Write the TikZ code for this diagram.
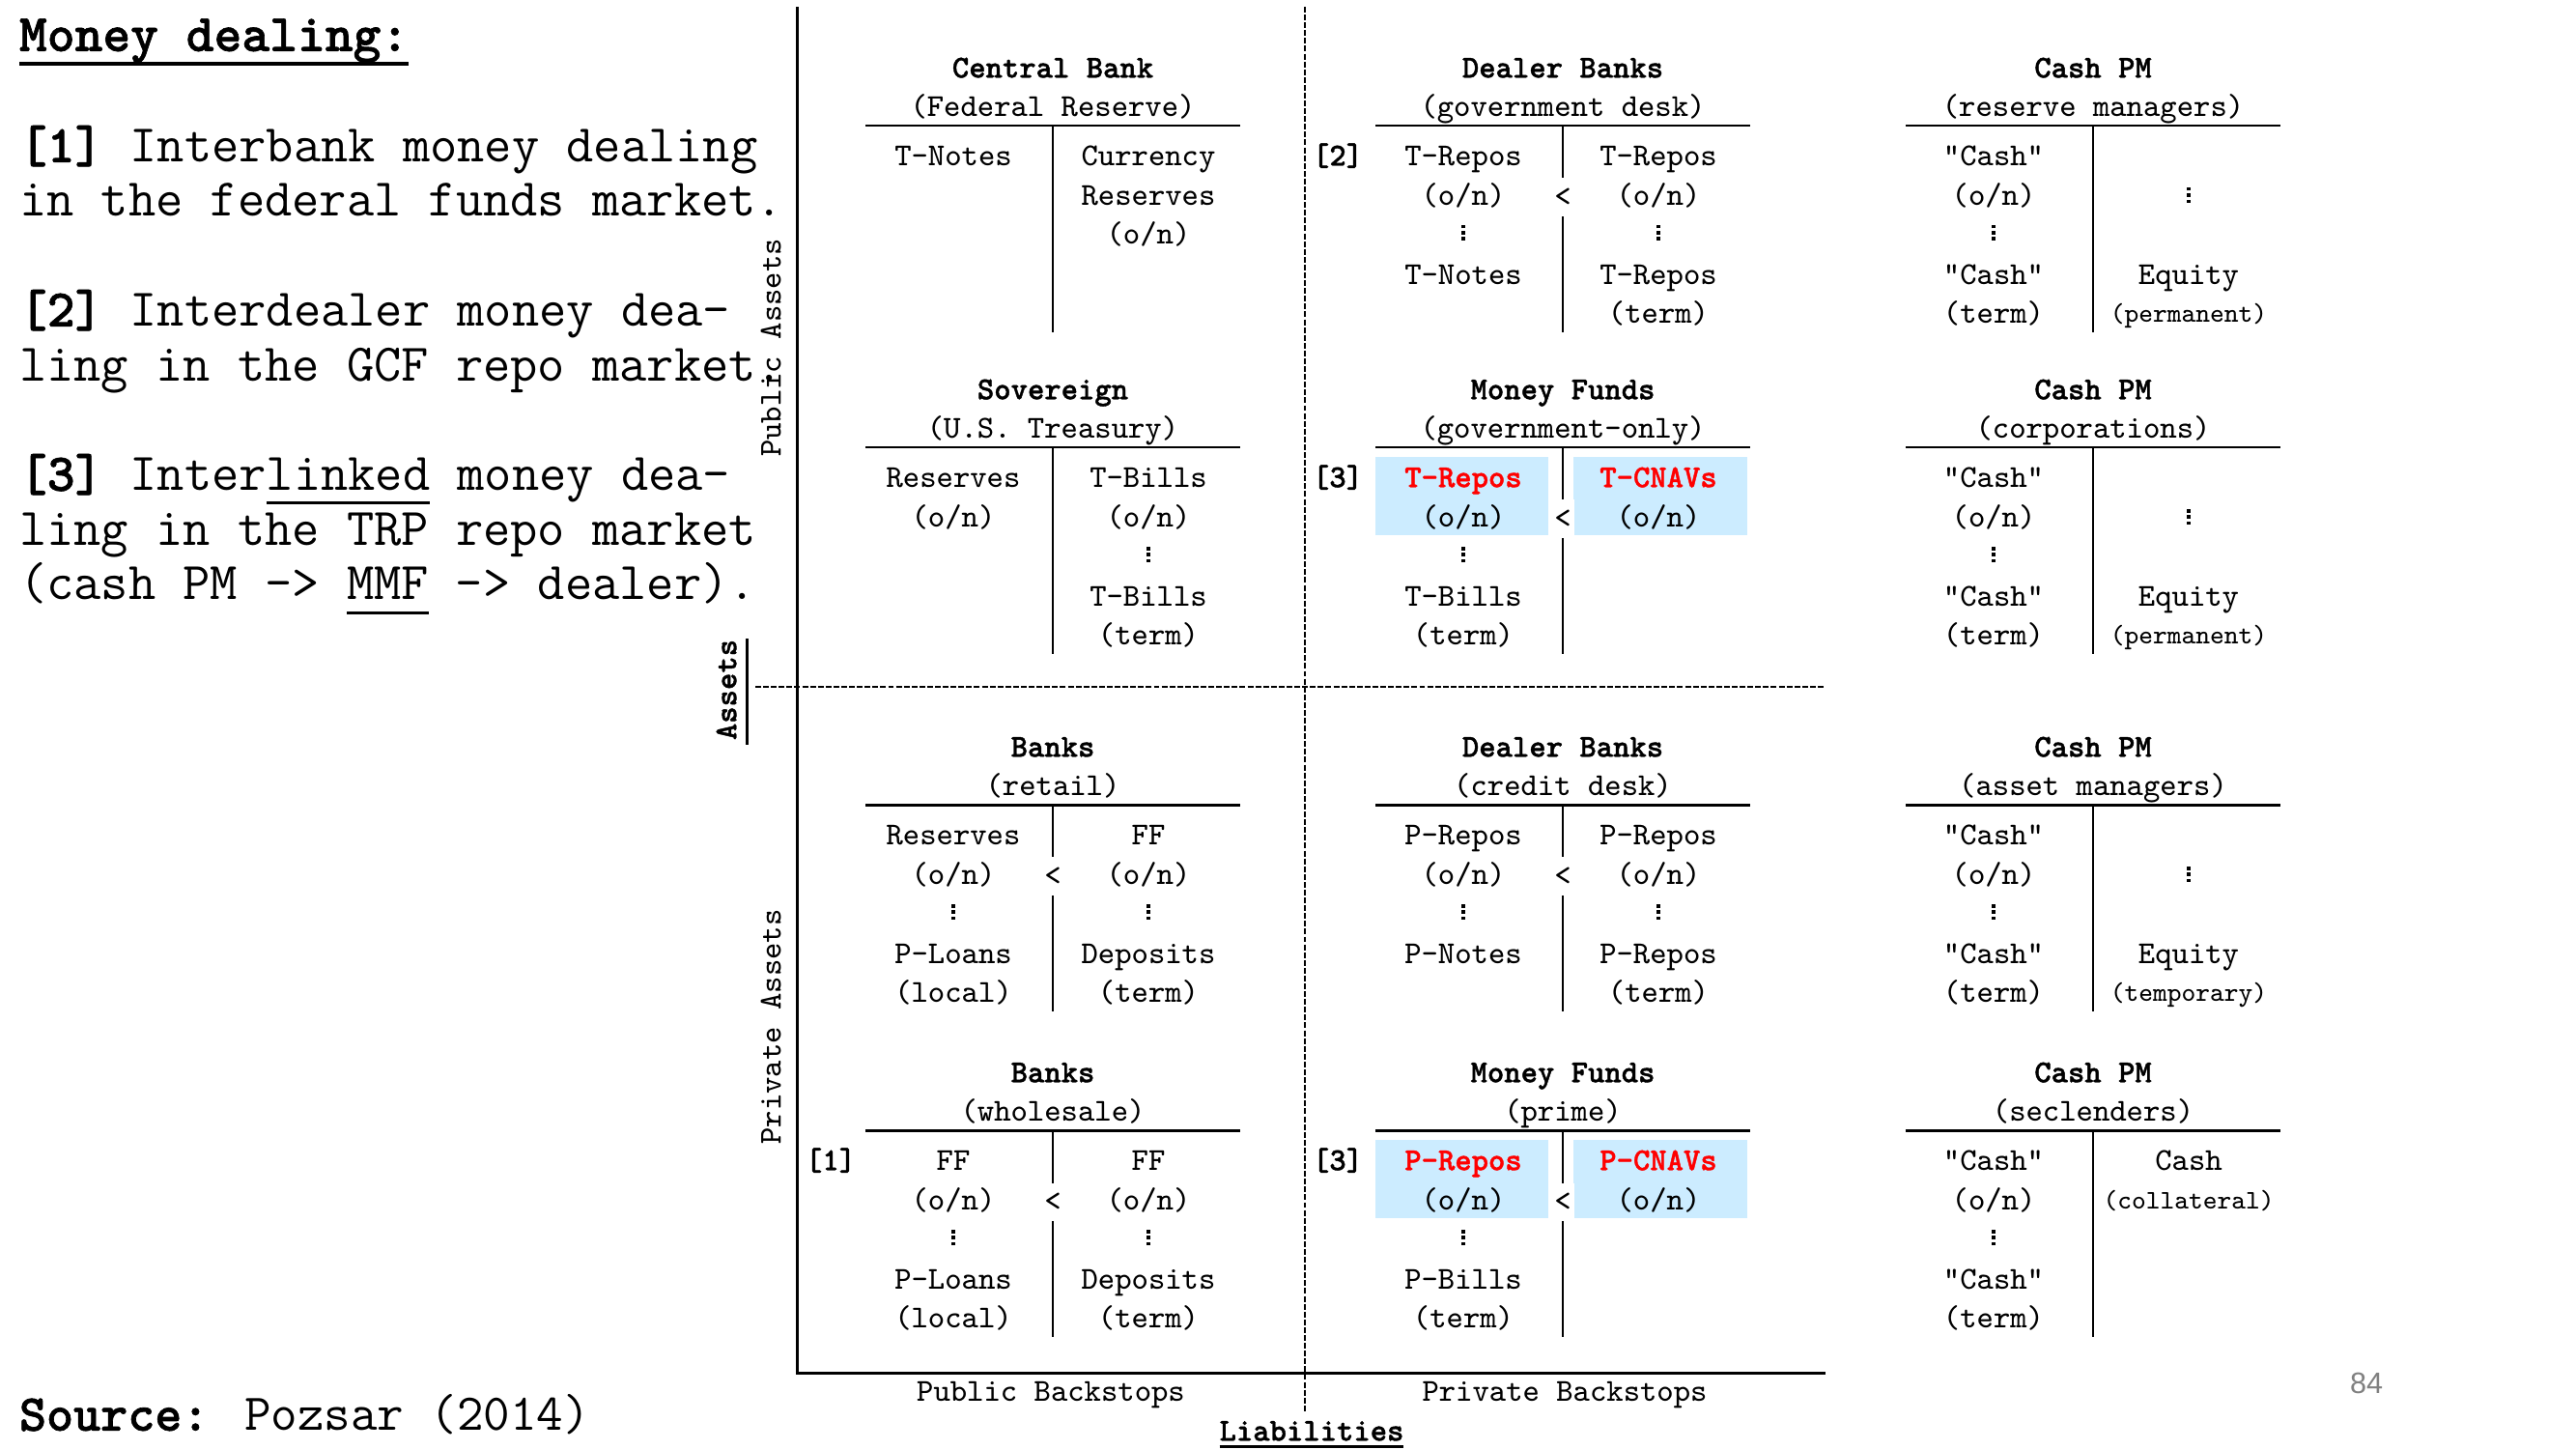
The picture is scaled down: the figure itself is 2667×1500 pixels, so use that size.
\documentclass[tikz,border=0pt]{standalone}
\usepackage{fontspec}
\newfontfamily\arialf{Liberation Sans}
\newfontfamily\tbf{lmmonolt10-bold.otf}[FakeBold=1.2]
\definecolor{hlblue}{RGB}{204,236,255}
\definecolor{pgnum}{RGB}{128,128,128}
\newcommand\tabfont{\fontsize{9.4}{11}\selectfont\ttfamily}
\newcommand\tabsmall{\fontsize{7.9}{9}\selectfont\ttfamily}
\newcommand\bigtt{\fontsize{15.6}{18}\selectfont\ttfamily}
\newcommand\srctt{\fontsize{15.2}{18}\selectfont\ttfamily}
\newcommand\myul[3]{\setbox0\hbox{#3}\rlap{\rule[-#1]{\wd0}{#2}}\box0\relax}
\newcommand\vdd{\vbox{\offinterlineskip\hbox{\rule{0.034cm}{0.034cm}}\kern0.028cm\hbox{\rule{0.034cm}{0.034cm}}\kern0.028cm\hbox{\rule{0.034cm}{0.034cm}}}}
\tikzset{
  cell/.style={font=\tabfont, text height=5.8pt, text depth=1.1pt},
  ttl/.style={cell, font=\tabfont\tbf},
  hltxt/.style={cell, font=\tabfont\tbf, text=red},
  smallc/.style={font=\tabsmall, text height=4.9pt, text depth=0.9pt},
  ltmark/.style={font=\tabfont, fill=white, minimum height=0.39cm, inner xsep=0.8pt},
  bigl/.style={font=\bigtt, anchor=west, text height=9.7pt, text depth=1.8pt},
  rulel/.style={line width=0.85pt},
  vline/.style={line width=0.7pt},
  axis/.style={line width=0.85pt},
  dashax/.style={line width=0.55pt, dash pattern=on 1.7pt off 0.6pt},
  ulline/.style={line width=0.85pt},
}
\newcommand\tacct[5]{%
  \node[ttl] (#1-t) at (#2,#3-58) {#4};
  \node[cell] (#1-s) at (#2,#3-18) {#5};
  \coordinate (#1-a) at (#2-194,#3);
  \coordinate (#1-b) at (#2+194,#3);
  \coordinate (#1-c) at (#2,#3);
  \coordinate (#1-d) at (#2,#3+214);
  \draw[rulel] (#1-a) -- (#1-b);
  \draw[vline] (#1-c) -- (#1-d);
}
\newcommand\cashleft[1]{%
  \node[cell] (#1-l1) at (\bV-103,\bR+33) {"Cash"};
  \node[cell] (#1-l2) at (\bV-103,\bR+74) {(o/n)};
  \node (#1-l3) at (\bV-103,\bR+111) {\vdd};
  \node[cell] (#1-l4) at (\bV-103,\bR+156) {"Cash"};
  \node[cell] (#1-l5) at (\bV-103,\bR+196) {(term)};
}
\begin{document}
\begin{tikzpicture}[x=0.01cm,y=-0.01cm, every node/.style={inner sep=0pt,outer sep=0pt}]
\fill[white] (0,0) rectangle (2667,1500);
\useasboundingbox (0,0) rectangle (2667,1500);

% highlight boxes
\def\bV{1618}\def\bR{463}
\fill[hlblue] (\bV-194,\bR+10) rectangle (\bV-15,\bR+91);
\fill[hlblue] (\bV+11,\bR+10) rectangle (\bV+191,\bR+91);
\def\bV{1618}\def\bR{1170}
\fill[hlblue] (\bV-194,\bR+10) rectangle (\bV-15,\bR+91);
\fill[hlblue] (\bV+11,\bR+10) rectangle (\bV+191,\bR+91);

% axes
\coordinate (ax-top) at (825,7);
\coordinate (ax-bot) at (825,1421);
\coordinate (ax-right) at (1890,1421);
\draw[axis] (ax-top) -- (ax-bot) -- (ax-right);
\coordinate (dv-top) at (1351,7);
\coordinate (dv-bot) at (1351,1462);
\draw[dashax] (dv-top) -- (dv-bot);
\coordinate (dh-left) at (782,711);
\coordinate (dh-right) at (1890,711);
\draw[dashax] (dh-left) -- (dh-right);
\coordinate (as-a) at (773,661);
\coordinate (as-b) at (773,771);
\draw[ulline] (as-a) -- (as-b);

% left text
\node[bigl] (h0) at (20,39) {{\tbf\myul{0.15cm}{0.04cm}{Money dealing:}}};
\node[bigl] (h1) at (20,154) {{\tbf [1]} Interbank money dealing};
\node[bigl] (h2) at (20,210) {in the federal funds market.};
\node[bigl] (h3) at (20,324) {{\tbf [2]} Interdealer money dea-};
\node[bigl] (h4) at (20,381) {ling in the GCF repo market.};
\node[bigl] (h5) at (20,494) {{\tbf [3]} Inter\myul{0.1375cm}{0.025cm}{linked} money dea-};
\node[bigl] (h6) at (20,551) {ling in the TRP repo market};
\node[bigl] (h7) at (20,607) {(cash PM -> \myul{0.15cm}{0.03cm}{MMF} -> dealer).};
\node[bigl, font=\srctt] (src) at (20,1467) {{\tbf Source:} Pozsar (2014)};

% axis labels
\node[ttl, rotate=90] (assets) at (754,714) {Assets};
\node[cell, rotate=90] (pubA) at (800,360) {Public Assets};
\node[cell, rotate=90] (privA) at (800,1063) {Private Assets};
\node[cell] (pubB) at (1088,1442) {Public Backstops};
\node[cell] (privB) at (1620,1442) {Private Backstops};
\node[ttl] (liab) at (1358,1483) {\myul{0.0775cm}{0.035cm}{Liabilities}};
\node[font=\fontsize{8.7}{10}\selectfont\arialf, text=pgnum] (pg) at (2450,1432) {84};

% ---- Row 1 ----
\def\bV{1090}\def\bR{130}
\tacct{cb}{\bV}{\bR}{Central Bank}{(Federal Reserve)}
\node[cell] (cb-l1) at (\bV-103,\bR+33) {T-Notes};
\node[cell] (cb-r1) at (\bV+99,\bR+33) {Currency};
\node[cell] (cb-r2) at (\bV+99,\bR+74) {Reserves};
\node[cell] (cb-r3) at (\bV+99,\bR+114) {(o/n)};

\def\bV{1618}\def\bR{130}
\tacct{dbg}{\bV}{\bR}{Dealer Banks}{(government desk)}
\node[ttl] (dbg-tag) at (1385,\bR+33) {[2]};
\node[ltmark] (dbg-lt) at (\bV,\bR+74) {<};
\node[cell] (dbg-l1) at (\bV-103,\bR+33) {T-Repos};
\node[cell] (dbg-l2) at (\bV-103,\bR+74) {(o/n)};
\node (dbg-l3) at (\bV-103,\bR+111) {\vdd};
\node[cell] (dbg-l4) at (\bV-103,\bR+156) {T-Notes};
\node[cell] (dbg-r1) at (\bV+99,\bR+33) {T-Repos};
\node[cell] (dbg-r2) at (\bV+99,\bR+74) {(o/n)};
\node (dbg-r3) at (\bV+99,\bR+111) {\vdd};
\node[cell] (dbg-r4) at (\bV+99,\bR+156) {T-Repos};
\node[cell] (dbg-r5) at (\bV+99,\bR+196) {(term)};

\def\bV{2167}\def\bR{130}
\tacct{cpr}{\bV}{\bR}{Cash PM}{(reserve managers)}
\cashleft{cpr}
\node (cpr-r2) at (\bV+99,\bR+72) {\vdd};
\node[cell] (cpr-r4) at (\bV+99,\bR+156) {Equity};
\node[smallc] (cpr-r5) at (\bV+99,\bR+196) {(permanent)};

% ---- Row 2 ----
\def\bV{1090}\def\bR{463}
\tacct{sov}{\bV}{\bR}{Sovereign}{(U.S. Treasury)}
\node[cell] (sov-l1) at (\bV-103,\bR+33) {Reserves};
\node[cell] (sov-l2) at (\bV-103,\bR+74) {(o/n)};
\node[cell] (sov-r1) at (\bV+99,\bR+33) {T-Bills};
\node[cell] (sov-r2) at (\bV+99,\bR+74) {(o/n)};
\node (sov-r3) at (\bV+99,\bR+111) {\vdd};
\node[cell] (sov-r4) at (\bV+99,\bR+156) {T-Bills};
\node[cell] (sov-r5) at (\bV+99,\bR+196) {(term)};

\def\bV{1618}\def\bR{463}
\tacct{mfg}{\bV}{\bR}{Money Funds}{(government-only)}
\node[ttl] (mfg-tag) at (1385,\bR+33) {[3]};
\node[ltmark] (mfg-lt) at (\bV,\bR+74) {<};
\node[hltxt] (mfg-l1) at (\bV-103,\bR+33) {T-Repos};
\node[cell] (mfg-l2) at (\bV-103,\bR+74) {(o/n)};
\node (mfg-l3) at (\bV-103,\bR+111) {\vdd};
\node[cell] (mfg-l4) at (\bV-103,\bR+156) {T-Bills};
\node[cell] (mfg-l5) at (\bV-103,\bR+196) {(term)};
\node[hltxt] (mfg-r1) at (\bV+99,\bR+33) {T-CNAVs};
\node[cell] (mfg-r2) at (\bV+99,\bR+74) {(o/n)};

\def\bV{2167}\def\bR{463}
\tacct{cpc}{\bV}{\bR}{Cash PM}{(corporations)}
\cashleft{cpc}
\node (cpc-r2) at (\bV+99,\bR+72) {\vdd};
\node[cell] (cpc-r4) at (\bV+99,\bR+156) {Equity};
\node[smallc] (cpc-r5) at (\bV+99,\bR+196) {(permanent)};

% ---- Row 3 ----
\def\bV{1090}\def\bR{833}
\tacct{bkr}{\bV}{\bR}{Banks}{(retail)}
\node[ltmark] (bkr-lt) at (\bV,\bR+74) {<};
\node[cell] (bkr-l1) at (\bV-103,\bR+33) {Reserves};
\node[cell] (bkr-l2) at (\bV-103,\bR+74) {(o/n)};
\node (bkr-l3) at (\bV-103,\bR+111) {\vdd};
\node[cell] (bkr-l4) at (\bV-103,\bR+156) {P-Loans};
\node[cell] (bkr-l5) at (\bV-103,\bR+196) {(local)};
\node[cell] (bkr-r1) at (\bV+99,\bR+33) {FF};
\node[cell] (bkr-r2) at (\bV+99,\bR+74) {(o/n)};
\node (bkr-r3) at (\bV+99,\bR+111) {\vdd};
\node[cell] (bkr-r4) at (\bV+99,\bR+156) {Deposits};
\node[cell] (bkr-r5) at (\bV+99,\bR+196) {(term)};

\def\bV{1618}\def\bR{833}
\tacct{dbc}{\bV}{\bR}{Dealer Banks}{(credit desk)}
\node[ltmark] (dbc-lt) at (\bV,\bR+74) {<};
\node[cell] (dbc-l1) at (\bV-103,\bR+33) {P-Repos};
\node[cell] (dbc-l2) at (\bV-103,\bR+74) {(o/n)};
\node (dbc-l3) at (\bV-103,\bR+111) {\vdd};
\node[cell] (dbc-l4) at (\bV-103,\bR+156) {P-Notes};
\node[cell] (dbc-r1) at (\bV+99,\bR+33) {P-Repos};
\node[cell] (dbc-r2) at (\bV+99,\bR+74) {(o/n)};
\node (dbc-r3) at (\bV+99,\bR+111) {\vdd};
\node[cell] (dbc-r4) at (\bV+99,\bR+156) {P-Repos};
\node[cell] (dbc-r5) at (\bV+99,\bR+196) {(term)};

\def\bV{2167}\def\bR{833}
\tacct{cpa}{\bV}{\bR}{Cash PM}{(asset managers)}
\cashleft{cpa}
\node (cpa-r2) at (\bV+99,\bR+72) {\vdd};
\node[cell] (cpa-r4) at (\bV+99,\bR+156) {Equity};
\node[smallc] (cpa-r5) at (\bV+99,\bR+196) {(temporary)};

% ---- Row 4 ----
\def\bV{1090}\def\bR{1170}
\tacct{bkw}{\bV}{\bR}{Banks}{(wholesale)}
\node[ttl] (bkw-tag) at (860,\bR+33) {[1]};
\node[ltmark] (bkw-lt) at (\bV,\bR+74) {<};
\node[cell] (bkw-l1) at (\bV-103,\bR+33) {FF};
\node[cell] (bkw-l2) at (\bV-103,\bR+74) {(o/n)};
\node (bkw-l3) at (\bV-103,\bR+111) {\vdd};
\node[cell] (bkw-l4) at (\bV-103,\bR+156) {P-Loans};
\node[cell] (bkw-l5) at (\bV-103,\bR+196) {(local)};
\node[cell] (bkw-r1) at (\bV+99,\bR+33) {FF};
\node[cell] (bkw-r2) at (\bV+99,\bR+74) {(o/n)};
\node (bkw-r3) at (\bV+99,\bR+111) {\vdd};
\node[cell] (bkw-r4) at (\bV+99,\bR+156) {Deposits};
\node[cell] (bkw-r5) at (\bV+99,\bR+196) {(term)};

\def\bV{1618}\def\bR{1170}
\tacct{mfp}{\bV}{\bR}{Money Funds}{(prime)}
\node[ttl] (mfp-tag) at (1385,\bR+33) {[3]};
\node[ltmark] (mfp-lt) at (\bV,\bR+74) {<};
\node[hltxt] (mfp-l1) at (\bV-103,\bR+33) {P-Repos};
\node[cell] (mfp-l2) at (\bV-103,\bR+74) {(o/n)};
\node (mfp-l3) at (\bV-103,\bR+111) {\vdd};
\node[cell] (mfp-l4) at (\bV-103,\bR+156) {P-Bills};
\node[cell] (mfp-l5) at (\bV-103,\bR+196) {(term)};
\node[hltxt] (mfp-r1) at (\bV+99,\bR+33) {P-CNAVs};
\node[cell] (mfp-r2) at (\bV+99,\bR+74) {(o/n)};

\def\bV{2167}\def\bR{1170}
\tacct{cps}{\bV}{\bR}{Cash PM}{(seclenders)}
\cashleft{cps}
\node[cell] (cps-r1) at (\bV+99,\bR+33) {Cash};
\node[smallc] (cps-r2) at (\bV+99,\bR+74) {(collateral)};
\end{tikzpicture}
\end{document}
